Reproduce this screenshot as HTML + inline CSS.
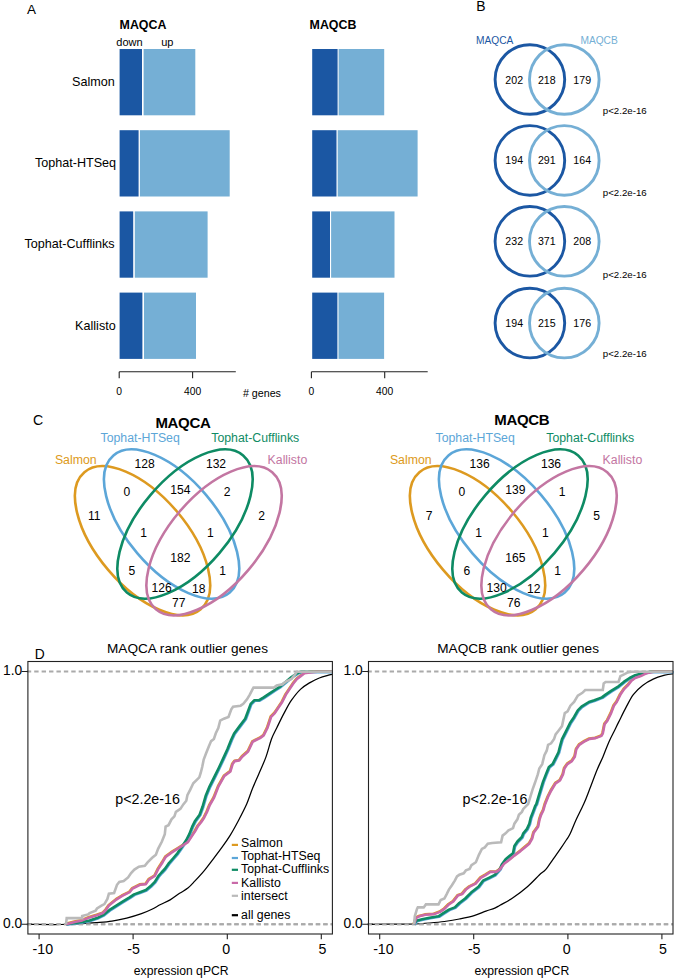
<!DOCTYPE html>
<html><head><meta charset="utf-8"><style>
html,body{margin:0;padding:0;background:#fff;}
svg{display:block;font-family:"Liberation Sans", sans-serif;}
</style></head><body>
<svg width="675" height="980" viewBox="0 0 675 980">
<rect width="675" height="980" fill="#fff"/>
<text x="27" y="14.2" font-size="13.5" text-anchor="start" font-weight="normal" fill="#000" >A</text>
<text x="119.6" y="28.7" font-size="12.4" text-anchor="start" font-weight="bold" fill="#000" >MAQCA</text>
<text x="309.6" y="29.2" font-size="12.4" text-anchor="start" font-weight="bold" fill="#000" >MAQCB</text>
<text x="116.3" y="45.7" font-size="11" text-anchor="start" font-weight="normal" fill="#000" >down</text>
<text x="161.2" y="45.7" font-size="11" text-anchor="start" font-weight="normal" fill="#000" >up</text>
<rect x="119.6" y="49.0" width="22.4" height="66.3" fill="#1b57a3"/>
<rect x="143.6" y="49.0" width="51.7" height="66.3" fill="#75afd5"/>
<rect x="312.2" y="49.0" width="25.4" height="66.3" fill="#1b57a3"/>
<rect x="338.6" y="49.0" width="45.6" height="66.3" fill="#75afd5"/>
<text x="114.7" y="86.4" font-size="12.6" text-anchor="end" font-weight="normal" fill="#000" >Salmon</text>
<rect x="119.6" y="130.2" width="19.0" height="66.3" fill="#1b57a3"/>
<rect x="139.9" y="130.2" width="89.8" height="66.3" fill="#75afd5"/>
<rect x="312.2" y="130.2" width="24.3" height="66.3" fill="#1b57a3"/>
<rect x="337.7" y="130.2" width="79.9" height="66.3" fill="#75afd5"/>
<text x="116.1" y="166.8" font-size="12.6" text-anchor="end" font-weight="normal" fill="#000" >Tophat-HTSeq</text>
<rect x="119.6" y="211.4" width="13.6" height="66.3" fill="#1b57a3"/>
<rect x="134.8" y="211.4" width="72.8" height="66.3" fill="#75afd5"/>
<rect x="312.2" y="211.4" width="17.8" height="66.3" fill="#1b57a3"/>
<rect x="331.1" y="211.4" width="63.4" height="66.3" fill="#75afd5"/>
<text x="114.6" y="248.3" font-size="12.6" text-anchor="end" font-weight="normal" fill="#000" >Tophat-Cufflinks</text>
<rect x="119.6" y="292.6" width="22.8" height="66.3" fill="#1b57a3"/>
<rect x="144" y="292.6" width="52.0" height="66.3" fill="#75afd5"/>
<rect x="312.2" y="292.6" width="25.2" height="66.3" fill="#1b57a3"/>
<rect x="338.5" y="292.6" width="45.6" height="66.3" fill="#75afd5"/>
<text x="115.7" y="329.7" font-size="12.6" text-anchor="end" font-weight="normal" fill="#000" >Kallisto</text>
<path d="M119.2 371.8H235.8M119.2 371.8V378.3M192.6 371.8V378.3" stroke="#222" stroke-width="1.1" fill="none"/>
<text x="119.2" y="395.2" font-size="10.3" text-anchor="middle" font-weight="normal" fill="#000" >0</text>
<text x="192.6" y="395.2" font-size="10.3" text-anchor="middle" font-weight="normal" fill="#000" >400</text>
<path d="M311.4 371.8H427.7M311.4 371.8V378.3M384.7 371.8V378.3" stroke="#222" stroke-width="1.1" fill="none"/>
<text x="311.4" y="395.2" font-size="10.3" text-anchor="middle" font-weight="normal" fill="#000" >0</text>
<text x="384.7" y="395.2" font-size="10.3" text-anchor="middle" font-weight="normal" fill="#000" >400</text>
<text x="242.9" y="397" font-size="10.7" text-anchor="start" font-weight="normal" fill="#000" ># genes</text>
<text x="476.2" y="11.3" font-size="13.9" text-anchor="start" font-weight="normal" fill="#000" >B</text>
<text x="476" y="44.3" font-size="10.2" text-anchor="start" font-weight="normal" fill="#1b57a3" >MAQCA</text>
<text x="580.4" y="44.3" font-size="10.2" text-anchor="start" font-weight="normal" fill="#75afd5" >MAQCB</text>
<circle cx="529.9" cy="79.5" r="34.8" fill="none" stroke="#1b57a3" stroke-width="2.9"/>
<circle cx="564.3" cy="79.5" r="34.8" fill="none" stroke="#75afd5" stroke-width="2.9"/>
<text x="514.2" y="83.5" font-size="10.6" text-anchor="middle" font-weight="normal" fill="#000" >202</text>
<text x="546.8" y="83.5" font-size="10.6" text-anchor="middle" font-weight="normal" fill="#000" >218</text>
<text x="582.2" y="83.5" font-size="10.6" text-anchor="middle" font-weight="normal" fill="#000" >179</text>
<text x="602.8" y="114.2" font-size="9.7" text-anchor="start" font-weight="normal" fill="#000" >p&lt;2.2e-16</text>
<circle cx="529.9" cy="160.4" r="34.8" fill="none" stroke="#1b57a3" stroke-width="2.9"/>
<circle cx="564.3" cy="160.4" r="34.8" fill="none" stroke="#75afd5" stroke-width="2.9"/>
<text x="514.2" y="164.4" font-size="10.6" text-anchor="middle" font-weight="normal" fill="#000" >194</text>
<text x="546.8" y="164.4" font-size="10.6" text-anchor="middle" font-weight="normal" fill="#000" >291</text>
<text x="582.2" y="164.4" font-size="10.6" text-anchor="middle" font-weight="normal" fill="#000" >164</text>
<text x="602.8" y="196.2" font-size="9.7" text-anchor="start" font-weight="normal" fill="#000" >p&lt;2.2e-16</text>
<circle cx="529.9" cy="241.3" r="34.8" fill="none" stroke="#1b57a3" stroke-width="2.9"/>
<circle cx="564.3" cy="241.3" r="34.8" fill="none" stroke="#75afd5" stroke-width="2.9"/>
<text x="514.2" y="245.3" font-size="10.6" text-anchor="middle" font-weight="normal" fill="#000" >232</text>
<text x="546.8" y="245.3" font-size="10.6" text-anchor="middle" font-weight="normal" fill="#000" >371</text>
<text x="582.2" y="245.3" font-size="10.6" text-anchor="middle" font-weight="normal" fill="#000" >208</text>
<text x="602.8" y="277.5" font-size="9.7" text-anchor="start" font-weight="normal" fill="#000" >p&lt;2.2e-16</text>
<circle cx="529.9" cy="323.1" r="34.8" fill="none" stroke="#1b57a3" stroke-width="2.9"/>
<circle cx="564.3" cy="323.1" r="34.8" fill="none" stroke="#75afd5" stroke-width="2.9"/>
<text x="514.2" y="327.1" font-size="10.6" text-anchor="middle" font-weight="normal" fill="#000" >194</text>
<text x="546.8" y="327.1" font-size="10.6" text-anchor="middle" font-weight="normal" fill="#000" >215</text>
<text x="582.2" y="327.1" font-size="10.6" text-anchor="middle" font-weight="normal" fill="#000" >176</text>
<text x="602.8" y="357.0" font-size="9.7" text-anchor="start" font-weight="normal" fill="#000" >p&lt;2.2e-16</text>
<text x="32.9" y="425.0" font-size="14.2" text-anchor="start" font-weight="normal" fill="#000" >C</text>
<g fill="none" stroke-width="2.6">
<ellipse cx="142.55" cy="540.70" rx="89.9" ry="45.1" transform="rotate(49.7 142.55 540.70)" stroke="#dd9a20"/>
<ellipse cx="171.60" cy="524.00" rx="89.9" ry="45.1" transform="rotate(49.7 171.60 524.00)" stroke="#5ca6d8"/>
<ellipse cx="185.00" cy="524.00" rx="89.9" ry="45.1" transform="rotate(-49.7 185.00 524.00)" stroke="#0e8b64"/>
<ellipse cx="214.05" cy="540.70" rx="89.9" ry="45.1" transform="rotate(-49.7 214.05 540.70)" stroke="#c376a2"/>
</g>
<text x="155.4" y="427.7" font-size="15" text-anchor="start" font-weight="bold" fill="#000" letter-spacing="-0.3">MAQCA</text>
<text x="100.5" y="442.1" font-size="12.3" text-anchor="start" font-weight="normal" fill="#5ca6d8" >Tophat-HTSeq</text>
<text x="211.3" y="442.1" font-size="12.3" text-anchor="start" font-weight="normal" fill="#0e8b64" >Tophat-Cufflinks</text>
<text x="96.6" y="464.2" font-size="12.3" text-anchor="end" font-weight="normal" fill="#dd9a20" >Salmon</text>
<text x="267.6" y="464.2" font-size="12.3" text-anchor="start" font-weight="normal" fill="#c376a2" >Kallisto</text>
<text x="144.6" y="467.8" font-size="12.1" text-anchor="middle" font-weight="normal" fill="#000" >128</text>
<text x="126.8" y="495.9" font-size="12.1" text-anchor="middle" font-weight="normal" fill="#000" >0</text>
<text x="180.3" y="493.8" font-size="12.1" text-anchor="middle" font-weight="normal" fill="#000" >154</text>
<text x="216" y="467.8" font-size="12.1" text-anchor="middle" font-weight="normal" fill="#000" >132</text>
<text x="227.2" y="496.0" font-size="12.1" text-anchor="middle" font-weight="normal" fill="#000" >2</text>
<text x="94.2" y="519.7" font-size="12.1" text-anchor="middle" font-weight="normal" fill="#000" >11</text>
<text x="261.6" y="519.5" font-size="12.1" text-anchor="middle" font-weight="normal" fill="#000" >2</text>
<text x="143.6" y="536.7" font-size="12.1" text-anchor="middle" font-weight="normal" fill="#000" >1</text>
<text x="210.4" y="537.0" font-size="12.1" text-anchor="middle" font-weight="normal" fill="#000" >1</text>
<text x="180.3" y="562.3" font-size="12.1" text-anchor="middle" font-weight="normal" fill="#000" >182</text>
<text x="131.8" y="574.9" font-size="12.1" text-anchor="middle" font-weight="normal" fill="#000" >5</text>
<text x="222.6" y="575.4" font-size="12.1" text-anchor="middle" font-weight="normal" fill="#000" >1</text>
<text x="161.6" y="592.4" font-size="12.1" text-anchor="middle" font-weight="normal" fill="#000" >126</text>
<text x="198.8" y="592.5" font-size="12.1" text-anchor="middle" font-weight="normal" fill="#000" >18</text>
<text x="178.7" y="607.1" font-size="12.1" text-anchor="middle" font-weight="normal" fill="#000" >77</text>
<g fill="none" stroke-width="2.6">
<ellipse cx="477.55" cy="540.70" rx="89.9" ry="45.1" transform="rotate(49.7 477.55 540.70)" stroke="#dd9a20"/>
<ellipse cx="506.60" cy="524.00" rx="89.9" ry="45.1" transform="rotate(49.7 506.60 524.00)" stroke="#5ca6d8"/>
<ellipse cx="520.00" cy="524.00" rx="89.9" ry="45.1" transform="rotate(-49.7 520.00 524.00)" stroke="#0e8b64"/>
<ellipse cx="549.05" cy="540.70" rx="89.9" ry="45.1" transform="rotate(-49.7 549.05 540.70)" stroke="#c376a2"/>
</g>
<text x="494.2" y="425.3" font-size="15" text-anchor="start" font-weight="bold" fill="#000" letter-spacing="-0.3">MAQCB</text>
<text x="435.5" y="442.1" font-size="12.3" text-anchor="start" font-weight="normal" fill="#5ca6d8" >Tophat-HTSeq</text>
<text x="546.3" y="442.1" font-size="12.3" text-anchor="start" font-weight="normal" fill="#0e8b64" >Tophat-Cufflinks</text>
<text x="431.6" y="464.2" font-size="12.3" text-anchor="end" font-weight="normal" fill="#dd9a20" >Salmon</text>
<text x="602.6" y="464.2" font-size="12.3" text-anchor="start" font-weight="normal" fill="#c376a2" >Kallisto</text>
<text x="479.6" y="467.8" font-size="12.1" text-anchor="middle" font-weight="normal" fill="#000" >136</text>
<text x="461.8" y="495.9" font-size="12.1" text-anchor="middle" font-weight="normal" fill="#000" >0</text>
<text x="515.3" y="493.8" font-size="12.1" text-anchor="middle" font-weight="normal" fill="#000" >139</text>
<text x="551" y="467.8" font-size="12.1" text-anchor="middle" font-weight="normal" fill="#000" >136</text>
<text x="562.2" y="496.0" font-size="12.1" text-anchor="middle" font-weight="normal" fill="#000" >1</text>
<text x="429.2" y="519.7" font-size="12.1" text-anchor="middle" font-weight="normal" fill="#000" >7</text>
<text x="596.6" y="519.5" font-size="12.1" text-anchor="middle" font-weight="normal" fill="#000" >5</text>
<text x="478.6" y="536.7" font-size="12.1" text-anchor="middle" font-weight="normal" fill="#000" >1</text>
<text x="545.4" y="537.0" font-size="12.1" text-anchor="middle" font-weight="normal" fill="#000" >1</text>
<text x="515.3" y="562.3" font-size="12.1" text-anchor="middle" font-weight="normal" fill="#000" >165</text>
<text x="466.8" y="574.9" font-size="12.1" text-anchor="middle" font-weight="normal" fill="#000" >6</text>
<text x="557.6" y="575.4" font-size="12.1" text-anchor="middle" font-weight="normal" fill="#000" >1</text>
<text x="496.6" y="592.4" font-size="12.1" text-anchor="middle" font-weight="normal" fill="#000" >130</text>
<text x="533.8" y="592.5" font-size="12.1" text-anchor="middle" font-weight="normal" fill="#000" >12</text>
<text x="513.7" y="607.1" font-size="12.1" text-anchor="middle" font-weight="normal" fill="#000" >76</text>
<text x="34.8" y="658.5" font-size="13.8" text-anchor="start" font-weight="normal" fill="#000" >D</text>
<path d="M26.799999999999997 671.5H332.4M26.799999999999997 924.2H332.4" stroke="#aaa" stroke-width="2" stroke-dasharray="4.4 3.01" fill="none"/>
<path d="M28.0 924.4 C33.3 924.4 51.0 924.6 60.0 924.5 C69.0 924.4 76.0 923.9 82.2 923.6 C88.4 923.3 92.0 923.0 97.0 922.6 C102.0 922.2 107.0 921.9 111.9 921.1 C116.9 920.4 121.8 919.3 126.7 918.1 C131.6 916.9 137.3 915.2 141.5 913.7 C145.7 912.2 148.8 910.8 151.9 909.3 C155.0 907.8 157.0 906.4 160.0 904.8 C163.0 903.2 166.8 901.8 170.1 899.9 C173.4 898.0 176.6 895.3 179.6 893.3 C182.6 891.3 185.3 890.2 187.9 888.1 C190.5 886.0 192.2 883.9 195.0 880.9 C197.8 877.9 201.5 873.9 204.5 870.3 C207.5 866.7 210.1 863.1 213.0 859.3 C215.9 855.5 219.1 851.3 221.9 847.4 C224.7 843.5 227.2 840.1 230.0 835.6 C232.8 831.1 235.7 825.8 238.5 820.5 C241.3 815.2 244.3 809.5 246.7 804.1 C249.0 798.7 250.5 793.4 252.6 788.3 C254.7 783.2 256.8 778.7 259.0 773.5 C261.2 768.3 263.8 762.9 265.9 757.1 C268.0 751.4 269.7 743.9 271.5 739.0 C273.3 734.1 274.6 732.3 276.7 728.0 C278.8 723.7 281.6 717.7 284.1 713.1 C286.6 708.5 288.7 704.2 291.5 700.2 C294.3 696.2 297.6 692.0 300.7 689.1 C303.8 686.2 306.9 684.5 310.0 682.6 C313.1 680.8 316.2 679.2 319.3 678.0 C322.4 676.8 326.4 675.8 328.5 675.2 C330.6 674.6 331.6 674.4 332.2 674.3" stroke="#000" stroke-width="1.25" fill="none"/>
<path d="M27.9 924.2H32" stroke="#000" stroke-width="1.1" fill="none"/>
<path d="M26.799999999999997 924.2H332.4" stroke="#aaa" stroke-width="2" stroke-dasharray="4.4 3.01" fill="none"/>
<path d="M65.6 923.8 L74.4 921.5 L81.8 920.0 L89.2 917.0 L96.6 914.8 L102.6 912.6 L105.5 909.6 L108.5 905.2 L115.9 899.2 L121.8 895.5 L129.2 891.8 L132.2 888.1 L139.6 884.4 L145.5 883.7 L148.5 879.2 L154.4 875.5 L157.6 869.0 L162.2 861.8 L165.2 856.6 L171.1 852.2 L177.0 848.5 L182.9 844.8 L187.4 841.8 L191.8 835.2 L194.8 830.7 L197.7 825.5 L200.7 821.8 L203.7 817.4 L206.6 811.5 L209.4 804.6 L213.5 797.5 L218.1 785.9 L224.0 775.5 L230.0 771.1 L232.2 763.7 L234.4 760.7 L238.9 760.0 L241.8 756.3 L247.7 751.1 L252.2 741.5 L255.6 739.6 L259.6 737.7 L263.3 735.0 L267.0 727.6 L270.7 716.5 L274.4 712.7 L278.1 707.2 L281.8 701.6 L285.5 694.2 L289.2 688.7 L292.9 683.1 L296.6 678.5 L300.3 675.7 L304.0 672.9 L309.6 672.0 L317.0 671.4 L331.6 671.4" stroke="#dd9a20" stroke-width="2.6" fill="none" stroke-linejoin="round"/>
<path d="M66.7 924.7 L82.9 922.4 L90.3 920.9 L97.7 918.6 L103.7 915.7 L111.1 909.8 L117.0 906.1 L122.9 902.4 L130.3 897.9 L134.8 894.9 L140.7 892.7 L146.6 890.5 L151.1 886.8 L155.5 882.4 L159.2 876.4 L162.2 873.0 L165.5 869.5 L169.2 864.2 L173.7 859.0 L178.1 853.8 L182.6 847.2 L187.0 840.5 L190.0 834.6 L192.9 827.2 L195.9 821.2 L200.3 815.3 L203.3 807.0 L206.6 795.7 L210.3 786.8 L214.8 777.9 L219.2 769.0 L223.7 759.4 L228.1 749.8 L231.9 740.3 L234.8 734.0 L240.3 726.6 L245.9 719.2 L248.7 711.8 L251.4 704.4 L255.1 700.7 L259.8 700.7 L264.4 697.9 L270.0 694.2 L275.5 690.5 L281.1 686.8 L286.6 682.2 L292.2 677.5 L297.7 673.8 L301.4 672.3 L332.7 672.3" stroke="#5ca6d8" stroke-width="2.6" fill="none" stroke-linejoin="round"/>
<path d="M66.0 924.2 L82.2 921.9 L89.6 920.4 L97.0 918.1 L103.0 915.2 L110.4 909.3 L116.3 905.6 L122.2 901.9 L129.6 897.4 L134.1 894.4 L140.0 892.2 L145.9 890.0 L150.4 886.3 L154.8 881.9 L158.5 875.9 L161.5 872.5 L164.8 869.0 L168.5 863.7 L173.0 858.5 L177.4 853.3 L181.9 846.7 L186.3 840.0 L189.3 834.1 L192.2 826.7 L195.2 820.7 L199.6 814.8 L202.6 806.5 L205.9 795.2 L209.6 786.3 L214.1 777.4 L218.5 768.5 L223.0 758.9 L227.4 749.3 L231.2 739.8 L234.1 733.5 L239.6 726.1 L245.2 718.7 L248.0 711.3 L250.7 703.9 L254.4 700.2 L259.1 700.2 L263.7 697.4 L269.3 693.7 L274.8 690.0 L280.4 686.3 L285.9 681.7 L291.5 677.0 L297.0 673.3 L300.7 671.8 L332.0 671.8" stroke="#0e8b64" stroke-width="2.6" fill="none" stroke-linejoin="round"/>
<path d="M66.0 924.2 L74.8 921.9 L82.2 920.4 L89.6 917.4 L97.0 915.2 L103.0 913.0 L105.9 910.0 L108.9 905.6 L116.3 899.6 L122.2 895.9 L129.6 892.2 L132.6 888.5 L140.0 884.8 L145.9 884.1 L148.9 879.6 L154.8 875.9 L158.0 869.4 L162.6 862.2 L165.6 857.0 L171.5 852.6 L177.4 848.9 L183.3 845.2 L187.8 842.2 L192.2 835.6 L195.2 831.1 L198.1 825.9 L201.1 822.2 L204.1 817.8 L207.0 811.9 L209.8 805.0 L213.9 797.9 L218.5 786.3 L224.4 775.9 L230.4 771.5 L232.6 764.1 L234.8 761.1 L239.3 760.4 L242.2 756.7 L248.1 751.5 L252.6 741.9 L256.0 740.0 L260.0 738.1 L263.7 735.4 L267.4 728.0 L271.1 716.9 L274.8 713.1 L278.5 707.6 L282.2 702.0 L285.9 694.6 L289.6 689.1 L293.3 683.5 L297.0 678.9 L300.7 676.1 L304.4 673.3 L310.0 672.4 L317.4 671.8 L332.0 671.8" stroke="#c96aa8" stroke-width="2.6" fill="none" stroke-linejoin="round"/>
<path d="M66.0 924.4 L66.7 918.1 L82.2 918.1 L82.2 915.9 L88.1 914.4 L89.6 913.0 L95.6 910.7 L97.0 908.5 L101.5 905.6 L104.4 904.1 L107.4 898.9 L108.9 893.7 L114.1 893.0 L117.0 884.8 L119.3 881.9 L123.7 881.1 L128.1 877.4 L131.1 873.0 L134.4 869.6 L138.9 866.7 L144.8 865.9 L147.8 862.2 L152.2 857.8 L155.9 854.8 L158.1 848.9 L161.9 841.5 L164.8 834.1 L165.6 826.7 L168.5 825.2 L171.5 819.3 L174.4 816.3 L175.9 811.9 L180.4 808.9 L183.3 804.4 L186.3 800.7 L187.4 795.2 L190.4 789.3 L193.3 783.3 L199.3 777.4 L200.7 773.0 L202.2 767.0 L203.7 759.6 L205.9 753.7 L208.9 746.3 L211.1 741.1 L213.9 739.0 L215.8 733.3 L218.3 728.0 L220.2 720.6 L223.9 718.7 L228.5 716.9 L231.3 709.4 L233.1 706.7 L240.6 705.7 L243.3 703.9 L247.0 699.3 L249.8 694.6 L252.6 689.1 L253.5 687.6 L273.9 687.6 L276.7 685.4 L282.2 684.4 L285.9 681.7 L291.5 678.9 L295.2 674.3 L297.0 671.8 L332.0 671.8" stroke="#bababa" stroke-width="2.6" fill="none" stroke-linejoin="miter"/>
<rect x="27.9" y="661.5" width="304.5" height="272.5" fill="none" stroke="#222" stroke-width="1.1"/>
<path d="M21.599999999999998 671.5H27.9M21.599999999999998 924.2H27.9" stroke="#222" stroke-width="1.1"/>
<text x="22.2" y="675.2" font-size="13.8" text-anchor="end" font-weight="normal" fill="#000" >1.0</text>
<text x="22.2" y="927.6" font-size="13.8" text-anchor="end" font-weight="normal" fill="#000" >0.0</text>
<path d="M39.1 934.0V939.3M133.1 934.0V939.3M227.3 934.0V939.3M321.3 934.0V939.3" stroke="#222" stroke-width="1.1"/>
<text x="42.8" y="953.8" font-size="14.2" text-anchor="middle" font-weight="normal" fill="#000" >-10</text>
<text x="133.6" y="953.8" font-size="14.2" text-anchor="middle" font-weight="normal" fill="#000" >-5</text>
<text x="226.2" y="953.8" font-size="14.2" text-anchor="middle" font-weight="normal" fill="#000" >0</text>
<text x="322.4" y="953.8" font-size="14.2" text-anchor="middle" font-weight="normal" fill="#000" >5</text>
<text x="133.8" y="975.2" font-size="12.2" text-anchor="start" font-weight="normal" fill="#000" >expression qPCR</text>
<text x="107" y="652.5" font-size="13.6" text-anchor="start" font-weight="normal" fill="#000" >MAQCA rank outlier genes</text>
<text x="115.2" y="803.6" font-size="14.3" text-anchor="start" font-weight="normal" fill="#000" >p&lt;2.2e-16</text>
<rect x="231.8" y="843.8" width="6.2" height="2.2" fill="#dd9a20"/>
<text x="241.1" y="846.7" font-size="12.3" text-anchor="start" font-weight="normal" fill="#000" >Salmon</text>
<rect x="231.8" y="856.9" width="6.2" height="2.2" fill="#5ca6d8"/>
<text x="241.1" y="859.6" font-size="12.3" text-anchor="start" font-weight="normal" fill="#000" >Tophat-HTSeq</text>
<rect x="231.8" y="868.7" width="6.2" height="2.2" fill="#0e8b64"/>
<text x="241.1" y="872.8" font-size="12.3" text-anchor="start" font-weight="normal" fill="#000" >Tophat-Cufflinks</text>
<rect x="231.8" y="881.8" width="6.2" height="2.2" fill="#c96aa8"/>
<text x="241.1" y="887.1" font-size="12.3" text-anchor="start" font-weight="normal" fill="#000" >Kallisto</text>
<rect x="231.8" y="894.7" width="6.2" height="2.2" fill="#bababa"/>
<text x="241.1" y="899.9" font-size="12.3" text-anchor="start" font-weight="normal" fill="#000" >intersect</text>
<rect x="231.8" y="914.1" width="6.2" height="2.2" fill="#000"/>
<text x="241.1" y="919" font-size="12.3" text-anchor="start" font-weight="normal" fill="#000" >all genes</text>
<path d="M367.4 671.5H673.0M367.4 924.2H673.0" stroke="#aaa" stroke-width="2" stroke-dasharray="4.4 3.01" fill="none"/>
<path d="M369.0 924.3 C374.2 924.3 392.4 924.1 400.0 924.1 C407.6 924.1 409.9 924.2 414.8 924.0 C419.7 923.8 424.7 923.4 429.6 923.0 C434.5 922.6 439.4 922.2 444.4 921.5 C449.3 920.8 454.4 920.0 459.3 919.0 C464.2 918.0 469.7 916.9 474.1 915.6 C478.5 914.3 482.4 912.4 485.9 911.1 C489.3 909.9 492.4 909.1 494.8 908.1 C497.2 907.1 497.0 906.9 500.0 905.2 C503.0 903.5 508.0 901.1 512.6 898.0 C517.2 894.9 523.0 890.5 527.4 886.7 C531.8 882.9 536.3 877.9 539.3 875.0 C542.3 872.1 543.3 872.2 545.6 869.6 C547.9 867.0 550.5 862.8 553.0 859.3 C555.5 855.8 558.2 852.1 560.4 848.9 C562.6 845.7 564.7 842.5 566.3 840.0 C567.9 837.5 568.4 837.4 570.0 834.1 C571.6 830.8 573.7 825.0 576.0 820.0 C578.3 815.0 581.4 809.2 583.7 804.1 C586.0 799.0 587.4 795.0 589.6 789.3 C591.8 783.6 594.8 775.4 597.0 770.0 C599.2 764.6 601.0 761.4 603.0 756.7 C605.0 752.0 606.9 746.4 608.9 741.9 C610.9 737.4 613.2 733.2 614.8 730.0 C616.4 726.8 616.6 726.1 618.5 722.4 C620.4 718.7 623.4 712.2 625.9 707.6 C628.4 703.0 630.5 698.3 633.3 694.6 C636.1 690.9 639.2 688.0 642.6 685.4 C646.0 682.8 650.0 680.6 653.7 678.9 C657.4 677.2 661.6 676.1 664.8 675.2 C668.0 674.4 671.6 674.0 673.0 673.8" stroke="#000" stroke-width="1.25" fill="none"/>
<path d="M368.5 924.2H373" stroke="#000" stroke-width="1.1" fill="none"/>
<path d="M367.4 924.2H673.0" stroke="#aaa" stroke-width="2" stroke-dasharray="4.4 3.01" fill="none"/>
<path d="M413.6 923.9 L415.9 917.4 L418.9 915.9 L424.8 914.4 L433.7 913.7 L439.6 911.5 L444.0 908.5 L448.5 904.0 L452.9 901.1 L457.4 895.2 L461.8 893.7 L465.5 889.2 L469.2 886.3 L475.2 883.3 L480.3 877.4 L485.5 874.4 L490.0 871.5 L495.9 871.5 L499.2 869.2 L503.7 863.3 L509.6 858.9 L514.0 855.2 L520.0 850.7 L524.4 847.0 L528.9 843.3 L531.8 838.1 L533.3 832.2 L537.7 826.3 L539.2 818.9 L540.7 814.4 L542.9 810.0 L544.6 804.1 L547.7 796.3 L550.7 790.3 L555.2 782.9 L559.6 780.0 L562.6 774.0 L564.0 768.1 L567.0 763.7 L571.5 760.7 L574.4 756.3 L575.9 748.9 L578.9 744.4 L583.3 741.5 L589.2 738.5 L595.2 737.7 L601.1 735.5 L602.4 733.1 L604.2 723.9 L607.0 720.2 L610.7 712.7 L613.5 705.3 L616.3 701.6 L620.0 694.2 L623.7 688.7 L627.4 685.0 L631.1 680.3 L634.8 677.6 L640.3 675.7 L645.9 672.9 L653.3 671.4 L672.6 671.4" stroke="#dd9a20" stroke-width="2.6" fill="none" stroke-linejoin="round"/>
<path d="M414.7 924.8 L417.0 921.2 L422.9 919.8 L430.3 918.3 L439.2 916.8 L443.7 913.8 L449.6 910.1 L455.5 907.9 L460.0 903.5 L465.9 899.0 L471.8 893.1 L479.2 887.2 L483.7 881.2 L489.6 878.3 L495.5 875.3 L500.7 869.4 L502.5 865.0 L506.3 859.8 L510.7 856.1 L513.7 853.8 L515.1 846.4 L518.1 842.0 L522.6 837.5 L524.0 833.8 L527.7 829.4 L530.0 824.2 L531.4 818.3 L533.7 812.4 L535.9 806.4 L537.0 804.6 L539.2 797.2 L541.4 789.8 L543.7 782.4 L546.6 774.9 L549.6 767.5 L553.3 764.6 L556.3 758.6 L559.2 752.7 L560.7 746.8 L562.7 739.6 L567.4 730.3 L571.1 722.9 L574.8 717.4 L578.5 710.9 L582.2 707.2 L589.6 702.5 L595.1 700.7 L602.6 697.9 L606.3 695.1 L611.8 691.4 L619.2 686.8 L624.8 682.2 L630.3 678.5 L635.9 675.7 L643.3 673.8 L650.7 672.3 L673.7 672.3" stroke="#5ca6d8" stroke-width="2.6" fill="none" stroke-linejoin="round"/>
<path d="M414.0 924.3 L416.3 920.7 L422.2 919.3 L429.6 917.8 L438.5 916.3 L443.0 913.3 L448.9 909.6 L454.8 907.4 L459.3 903.0 L465.2 898.5 L471.1 892.6 L478.5 886.7 L483.0 880.7 L488.9 877.8 L494.8 874.8 L500.0 868.9 L501.8 864.5 L505.6 859.3 L510.0 855.6 L513.0 853.3 L514.4 845.9 L517.4 841.5 L521.9 837.0 L523.3 833.3 L527.0 828.9 L529.3 823.7 L530.7 817.8 L533.0 811.9 L535.2 805.9 L536.3 804.1 L538.5 796.7 L540.7 789.3 L543.0 781.9 L545.9 774.4 L548.9 767.0 L552.6 764.1 L555.6 758.1 L558.5 752.2 L560.0 746.3 L562.0 739.1 L566.7 729.8 L570.4 722.4 L574.1 716.9 L577.8 710.4 L581.5 706.7 L588.9 702.0 L594.4 700.2 L601.9 697.4 L605.6 694.6 L611.1 690.9 L618.5 686.3 L624.1 681.7 L629.6 678.0 L635.2 675.2 L642.6 673.3 L650.0 671.8 L673.0 671.8" stroke="#0e8b64" stroke-width="2.6" fill="none" stroke-linejoin="round"/>
<path d="M414.0 924.3 L416.3 917.8 L419.3 916.3 L425.2 914.8 L434.1 914.1 L440.0 911.9 L444.4 908.9 L448.9 904.4 L453.3 901.5 L457.8 895.6 L462.2 894.1 L465.9 889.6 L469.6 886.7 L475.6 883.7 L480.7 877.8 L485.9 874.8 L490.4 871.9 L496.3 871.9 L499.6 869.6 L504.1 863.7 L510.0 859.3 L514.4 855.6 L520.4 851.1 L524.8 847.4 L529.3 843.7 L532.2 838.5 L533.7 832.6 L538.1 826.7 L539.6 819.3 L541.1 814.8 L543.3 810.4 L545.0 804.5 L548.1 796.7 L551.1 790.7 L555.6 783.3 L560.0 780.4 L563.0 774.4 L564.4 768.5 L567.4 764.1 L571.9 761.1 L574.8 756.7 L576.3 749.3 L579.3 744.8 L583.7 741.9 L589.6 738.9 L595.6 738.1 L601.5 735.9 L602.8 733.5 L604.6 724.3 L607.4 720.6 L611.1 713.1 L613.9 705.7 L616.7 702.0 L620.4 694.6 L624.1 689.1 L627.8 685.4 L631.5 680.7 L635.2 678.0 L640.7 676.1 L646.3 673.3 L653.7 671.8 L673.0 671.8" stroke="#c96aa8" stroke-width="2.6" fill="none" stroke-linejoin="round"/>
<path d="M414.1 924.3 L414.8 916.3 L417.0 908.9 L417.8 907.4 L423.7 907.4 L425.9 904.4 L438.5 904.4 L440.7 900.0 L444.4 898.5 L446.7 894.1 L448.9 889.6 L451.9 885.2 L454.8 880.7 L457.0 876.3 L459.3 874.8 L463.7 873.3 L465.9 870.4 L469.6 868.9 L471.5 865.2 L475.9 862.2 L478.9 854.8 L481.9 848.9 L484.8 847.4 L487.8 843.7 L492.2 843.0 L501.1 842.2 L502.6 835.6 L505.6 833.3 L508.5 830.4 L513.0 828.1 L514.4 823.7 L517.4 819.3 L518.9 814.8 L521.9 811.9 L523.3 808.9 L526.3 805.9 L528.1 804.1 L530.4 796.7 L532.6 789.3 L534.8 783.3 L537.8 774.4 L539.3 768.5 L542.2 764.1 L544.4 755.2 L546.7 750.7 L548.1 744.8 L551.1 743.3 L554.1 738.9 L555.6 734.4 L558.5 730.7 L562.0 726.1 L564.8 713.1 L567.6 711.3 L570.4 705.7 L574.1 702.0 L577.8 695.6 L582.4 692.8 L585.2 690.0 L602.8 690.0 L603.7 683.5 L605.6 682.0 L618.5 682.0 L620.4 676.1 L624.1 674.3 L627.8 672.4 L631.5 671.8 L673.0 671.8" stroke="#bababa" stroke-width="2.6" fill="none" stroke-linejoin="miter"/>
<rect x="368.5" y="661.5" width="304.5" height="272.5" fill="none" stroke="#222" stroke-width="1.1"/>
<path d="M362.2 671.5H368.5M362.2 924.2H368.5" stroke="#222" stroke-width="1.1"/>
<text x="362.8" y="675.2" font-size="13.8" text-anchor="end" font-weight="normal" fill="#000" >1.0</text>
<text x="362.8" y="927.6" font-size="13.8" text-anchor="end" font-weight="normal" fill="#000" >0.0</text>
<path d="M379.70000000000005 934.0V939.3M473.70000000000005 934.0V939.3M567.9000000000001 934.0V939.3M661.9000000000001 934.0V939.3" stroke="#222" stroke-width="1.1"/>
<text x="383.40000000000003" y="953.8" font-size="14.2" text-anchor="middle" font-weight="normal" fill="#000" >-10</text>
<text x="474.20000000000005" y="953.8" font-size="14.2" text-anchor="middle" font-weight="normal" fill="#000" >-5</text>
<text x="566.8" y="953.8" font-size="14.2" text-anchor="middle" font-weight="normal" fill="#000" >0</text>
<text x="663.0" y="953.8" font-size="14.2" text-anchor="middle" font-weight="normal" fill="#000" >5</text>
<text x="474.40000000000003" y="975.2" font-size="12.2" text-anchor="start" font-weight="normal" fill="#000" >expression qPCR</text>
<text x="437.3" y="652.5" font-size="13.6" text-anchor="start" font-weight="normal" fill="#000" >MAQCB rank outlier genes</text>
<text x="462.6" y="803.6" font-size="14.3" text-anchor="start" font-weight="normal" fill="#000" >p&lt;2.2e-16</text>
</svg></body></html>
